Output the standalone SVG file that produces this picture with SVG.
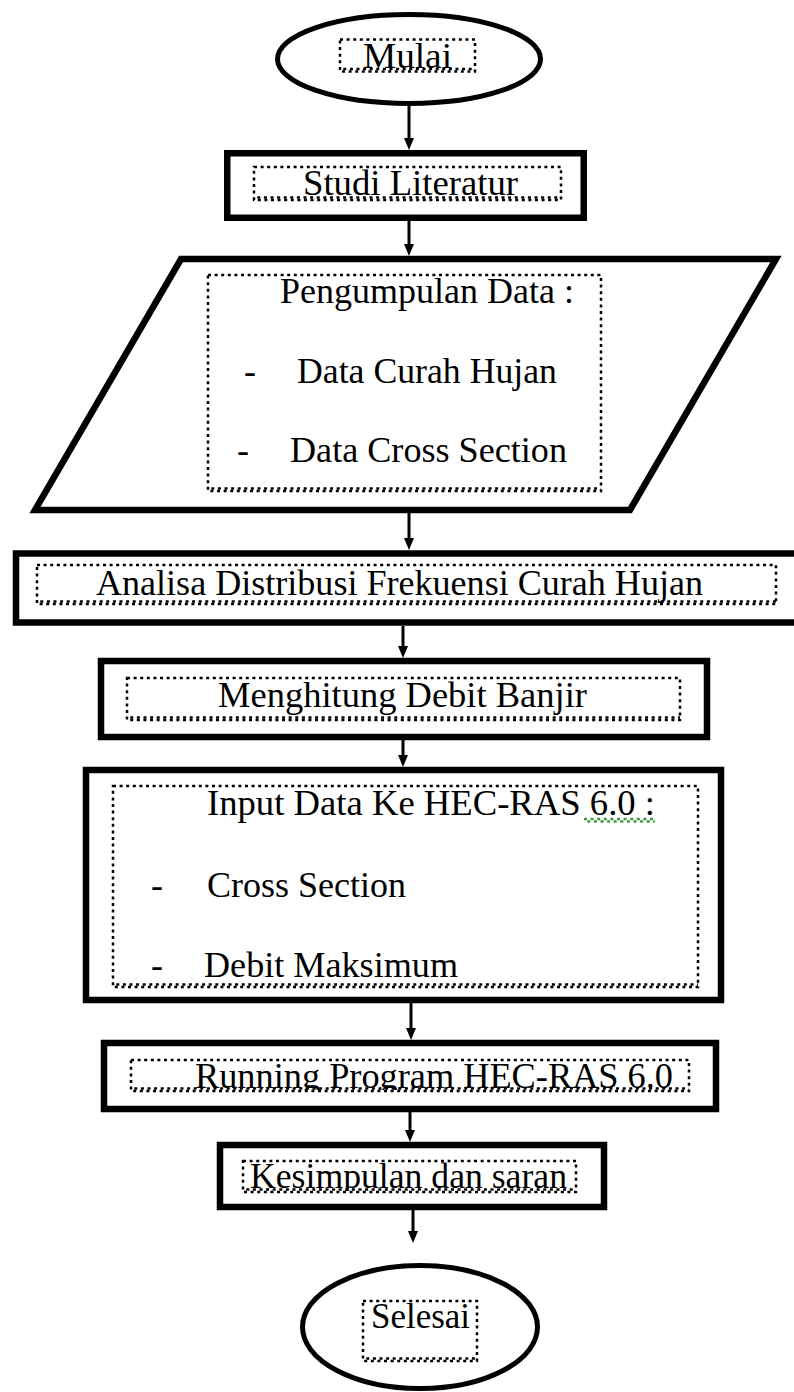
<svg xmlns="http://www.w3.org/2000/svg" width="794" height="1392" viewBox="0 0 794 1392">
<style>
.box{fill:#fff;stroke:#000;stroke-width:6.5}
.term{fill:#fff;stroke:#000;stroke-width:5}
.dot{fill:none;stroke:#000;stroke-width:2.5;stroke-dasharray:3 3.6}
.dotb{fill:none;stroke:#000;stroke-width:2.5;stroke-dasharray:3 3.6;stroke-dashoffset:3.3}
.t{font-family:"Liberation Serif","Times New Roman",serif;font-size:36px;fill:#000}
.conn path{fill:none;stroke:#000;stroke-width:3}
.spell{fill:none;stroke:#3c9a3c;stroke-width:2.5;stroke-dasharray:3 3.6}
</style>
<defs>
<marker id="ah" viewBox="0 0 12 10" markerWidth="12" markerHeight="10" refX="6" refY="5" orient="auto" markerUnits="userSpaceOnUse">
<path d="M0,0 L12,5 L0,10 z" fill="#000"/>
</marker>
<clipPath id="clipRun"><rect x="100" y="1040" width="620" height="50"/></clipPath>
<clipPath id="clipKes"><rect x="220" y="1145" width="380" height="46"/></clipPath>
</defs>
<rect width="794" height="1392" fill="#fff"/>

<g id="connectors" class="conn">
<path d="M409,106 V144" marker-end="url(#ah)"/>
<path d="M409,221 V250" marker-end="url(#ah)"/>
<path d="M409,513 V544" marker-end="url(#ah)"/>
<path d="M403,626 V652" marker-end="url(#ah)"/>
<path d="M403,740 V761" marker-end="url(#ah)"/>
<path d="M411,1003 V1034" marker-end="url(#ah)"/>
<path d="M410,1112 V1136" marker-end="url(#ah)"/>
<path d="M413,1210 V1237" marker-end="url(#ah)"/>
</g>

<g id="mulai">
<ellipse class="term" cx="409" cy="59" rx="131.5" ry="44.5"/>
<rect class="dot" x="340" y="39.5" width="135" height="32"/>
<line class="dotb" x1="340" y1="69" x2="475" y2="69"/>
<text class="t" x="363" y="68" textLength="89" lengthAdjust="spacingAndGlyphs">Mulai</text>
</g>

<g id="studi-literatur">
<rect class="box" x="227.25" y="153.25" width="356.5" height="64.5"/>
<rect class="dot" x="254" y="167" width="307" height="33"/>
<line class="dotb" x1="254" y1="197.5" x2="561" y2="197.5"/>
<text class="t" x="303" y="195" textLength="215" lengthAdjust="spacingAndGlyphs">Studi Literatur</text>
</g>

<g id="pengumpulan-data">
<polygon class="box" points="181,259 776,259 630,510 35,510"/>
<rect class="dot" x="208" y="275" width="393" height="216"/>
<line class="dotb" x1="208" y1="488.5" x2="601" y2="488.5"/>
<text class="t" x="280" y="303" textLength="294" lengthAdjust="spacingAndGlyphs">Pengumpulan Data :</text>
<text class="t" x="244" y="383">-</text>
<text class="t" x="297" y="383" textLength="260" lengthAdjust="spacingAndGlyphs">Data Curah Hujan</text>
<text class="t" x="237" y="462">-</text>
<text class="t" x="290" y="462" textLength="277" lengthAdjust="spacingAndGlyphs">Data Cross Section</text>
</g>

<g id="analisa-distribusi">
<rect class="box" x="16" y="553.5" width="800" height="69"/>
<rect class="dot" x="37" y="565" width="739" height="39"/>
<line class="dotb" x1="37" y1="601.5" x2="776" y2="601.5"/>
<text class="t" x="96" y="595" textLength="607" lengthAdjust="spacingAndGlyphs">Analisa Distribusi Frekuensi Curah Hujan</text>
</g>

<g id="menghitung-debit">
<rect class="box" x="101" y="661" width="606" height="76"/>
<rect class="dot" x="127" y="678" width="553" height="42"/>
<line class="dotb" x1="127" y1="717.5" x2="680" y2="717.5"/>
<text class="t" x="218" y="707" textLength="369" lengthAdjust="spacingAndGlyphs">Menghitung Debit Banjir</text>
</g>

<g id="input-data">
<rect class="box" x="86" y="770" width="635" height="230"/>
<rect class="dot" x="113" y="786" width="585" height="201"/>
<line class="dotb" x1="113" y1="984.5" x2="698" y2="984.5"/>
<text class="t" x="207" y="815" textLength="448" lengthAdjust="spacingAndGlyphs">Input Data Ke HEC-RAS 6.0 :</text>
<line class="spell" x1="584" y1="819" x2="655" y2="819"/>
<line class="spell" x1="584" y1="821.5" x2="655" y2="821.5" stroke-dashoffset="3.3"/>
<text class="t" x="151" y="897">-</text>
<text class="t" x="207" y="897" textLength="199" lengthAdjust="spacingAndGlyphs">Cross Section</text>
<text class="t" x="151" y="977">-</text>
<text class="t" x="204" y="977" textLength="254" lengthAdjust="spacingAndGlyphs">Debit Maksimum</text>
</g>

<g id="running-program">
<rect class="box" x="104" y="1043" width="612" height="66"/>
<text class="t" x="195" y="1088" textLength="478" lengthAdjust="spacingAndGlyphs" clip-path="url(#clipRun)">Running Program HEC-RAS 6.0</text>
<rect class="dot" x="131" y="1060" width="558" height="31"/>
<line class="dotb" x1="131" y1="1088.5" x2="689" y2="1088.5"/>
</g>

<g id="kesimpulan">
<rect class="box" x="220" y="1145" width="384" height="62"/>
<text class="t" x="250" y="1188" textLength="317" lengthAdjust="spacingAndGlyphs" clip-path="url(#clipKes)">Kesimpulan dan saran</text>
<rect class="dot" x="243" y="1161" width="333" height="31"/>
<line class="dotb" x1="243" y1="1189.5" x2="576" y2="1189.5"/>
</g>

<g id="selesai">
<ellipse class="term" cx="420" cy="1327" rx="117.5" ry="61.5"/>
<rect class="dot" x="363" y="1301" width="114" height="60"/>
<line class="dotb" x1="363" y1="1358.5" x2="477" y2="1358.5"/>
<text class="t" x="371" y="1328" textLength="99" lengthAdjust="spacingAndGlyphs">Selesai</text>
</g>
</svg>
